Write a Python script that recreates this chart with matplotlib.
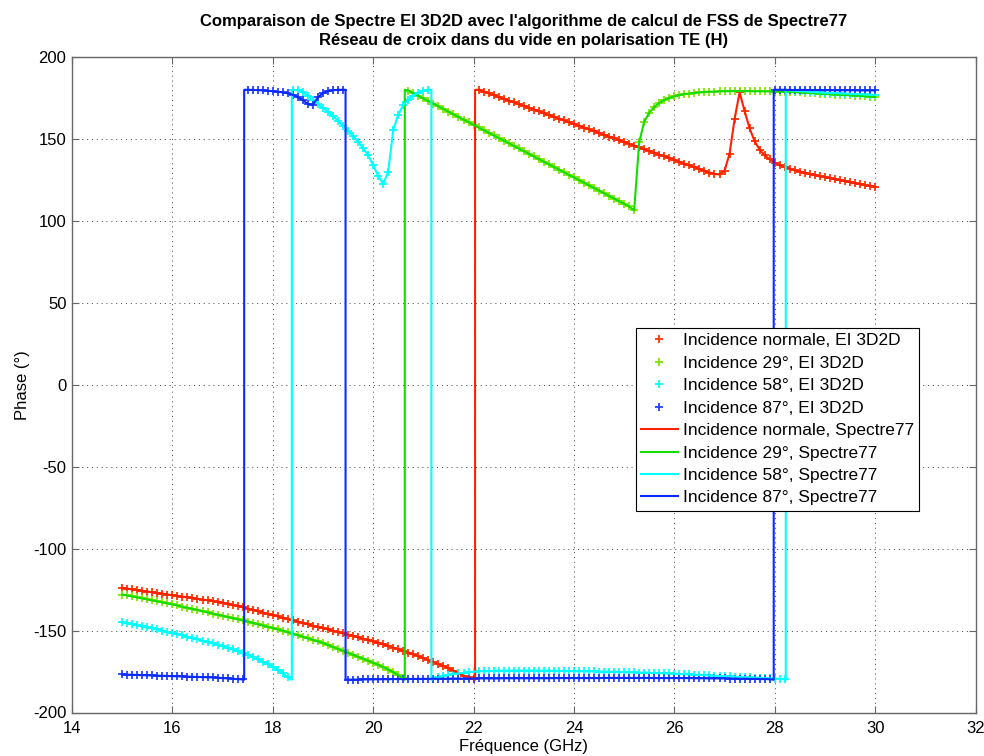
import numpy as np
import matplotlib
matplotlib.use("Agg")
import matplotlib.pyplot as plt

plt.rcParams['font.family'] = ['Liberation Sans', 'DejaVu Sans']
plt.rcParams['axes.unicode_minus'] = False

# ---------------- data ----------------
freq = np.round(np.linspace(15.0, 30.0, 151), 1)  # GHz, 0.1 GHz step

phase_normal = [
    -124.0, -124.4, -124.9, -125.3, -125.8, -126.2, -126.6, -127.1, -127.5, -128.0, -128.4,
    -128.8, -129.3, -129.7, -130.2, -130.6, -131.1, -131.5, -132.0, -132.4, -132.9,
    -133.6, -134.3, -135.0, -135.8, -136.6, -137.4, -138.2, -139.0, -139.8, -140.6,
    -141.4, -142.2, -143.0, -143.8, -144.6, -145.4, -146.2, -147.0, -147.8, -148.5,
    -149.3, -150.1, -150.9, -151.7, -152.5, -153.3, -154.1, -155.0, -155.8, -156.6,
    -157.5, -158.4, -159.4, -160.4, -161.5, -162.5, -163.5, -164.6, -165.7, -166.8,
    -168.0, -169.2, -170.5, -171.7, -173.0, -174.5, -176.0, -177.5, -178.6, -179.5,
    180.0, 178.9, 177.8, 176.7, 175.6, 174.5, 173.4, 172.3, 171.2, 170.1,
    169.0, 167.9, 166.8, 165.7, 164.6, 163.5, 162.4, 161.3, 160.2, 159.1,
    158.0, 156.9, 155.8, 154.7, 153.6, 152.5, 151.4, 150.3, 149.2, 148.1,
    147.0, 145.9, 144.8, 143.7, 142.6, 141.5, 140.4, 139.3, 138.2, 137.1,
    136.0, 134.9, 133.8, 132.7, 131.6, 130.5, 129.5, 128.6, 128.3, 130.5,
    141.0, 162.0, 178.5, 167.0, 156.5, 148.5, 143.5, 140.0, 137.5, 135.5,
    134.0, 132.8, 131.8, 130.9, 130.1, 129.3, 128.6, 127.9, 127.2, 126.6,
    126.0, 125.4, 124.8, 124.2, 123.6, 123.0, 122.4, 121.8, 121.2, 120.6,
]

phase_29 = [
    -128.0, -128.6, -129.2, -129.8, -130.4, -131.0, -131.6, -132.2, -132.8, -133.4, -134.0,
    -134.7, -135.4, -136.1, -136.8, -137.5, -138.2, -138.9, -139.6, -140.3, -141.0,
    -141.7, -142.4, -143.1, -143.8, -144.5, -145.3, -146.1, -146.9, -147.7, -148.5,
    -149.3, -150.1, -151.0, -151.9, -152.8, -153.8, -154.7, -155.7, -156.6, -157.6,
    -158.8, -160.0, -161.2, -162.4, -163.6, -164.8, -166.0, -167.2, -168.4, -169.6,
    -170.9, -172.3, -173.8, -175.4, -177.2, -179.2,
    179.5, 177.9, 176.3, 174.7,
    173.1, 171.5, 169.9, 168.3, 166.6, 165.0, 163.4, 161.8, 160.2, 158.6,
    157.0, 155.4, 153.8, 152.2, 150.6, 149.0, 147.4, 145.8, 144.2, 142.6,
    141.0, 139.3, 137.7, 136.1, 134.5, 132.9, 131.3, 129.7, 128.1, 126.5,
    124.9, 123.3, 121.7, 120.1, 118.5, 116.9, 115.2, 113.6, 112.0, 110.4,
    108.8, 106.5,
    148.0, 160.5, 166.0, 169.5, 172.0, 173.8, 175.0, 176.0,
    176.7, 177.3, 177.7, 178.1, 178.4, 178.6, 178.8, 178.9, 179.0, 179.1,
    179.1, 179.2, 179.2, 179.2, 179.2, 179.1, 179.1, 179.0, 179.0, 178.9,
    178.8, 178.7, 178.6, 178.5, 178.4, 178.2, 178.0, 177.8, 177.6, 177.4,
    177.3, 177.1, 176.9, 176.8, 176.6, 176.4, 176.2, 176.0, 175.8, 175.6,
]

phase_58 = [
    -145.0, -145.6, -146.2, -146.9, -147.5, -148.1, -148.7, -149.3, -150.0, -150.7, -151.4,
    -152.2, -153.0, -153.8, -154.6, -155.4, -156.2, -157.0, -157.8, -158.7, -159.6,
    -160.5, -161.5, -162.6, -163.8, -165.0, -166.3, -167.6, -169.0, -170.5, -172.0,
    -174.0, -176.0, -178.5,
    180.0, 179.6, 178.5, 176.5, 174.0, 171.5, 169.0,
    166.5, 164.0, 161.0, 158.0, 155.0, 152.0, 148.3, 144.3, 140.0, 134.0,
    127.5, 122.5, 130.0, 155.5, 164.8, 170.8, 174.0, 176.5, 178.3, 179.4, 180.0,
    -179.5, -178.6, -177.9, -177.2, -176.6, -176.1, -175.7, -175.4, -175.1,
    -174.9, -174.8, -174.7, -174.6, -174.5, -174.5, -174.4, -174.4, -174.4, -174.4,
    -174.4, -174.4, -174.5, -174.5, -174.5, -174.6, -174.6, -174.6, -174.7, -174.7,
    -174.8, -174.8, -174.9, -174.9, -175.0, -175.0, -175.1, -175.1, -175.2, -175.3,
    -175.4, -175.5, -175.6, -175.7, -175.8, -175.9, -176.0, -176.1, -176.2, -176.4,
    -176.5, -176.6, -176.8, -176.9, -177.1, -177.2, -177.4, -177.5, -177.7, -177.8,
    -178.0, -178.1, -178.3, -178.4, -178.6, -178.7, -178.9, -179.0, -179.2, -179.3,
    -179.5, -179.8,
    179.6, 179.4, 179.2, 179.0, 178.8, 178.6, 178.4, 178.2,
    178.1, 178.0, 177.8, 177.7, 177.6, 177.4, 177.3, 177.2, 177.0, 176.9,
]

phase_87 = [
    -176.8, -176.9, -177.0, -177.1, -177.2, -177.3, -177.4, -177.5, -177.6, -177.7, -177.8,
    -177.9, -178.0, -178.1, -178.2, -178.3, -178.4, -178.5, -178.6, -178.8, -179.0,
    -179.2, -179.4, -179.6, -179.8,
    180.0, 179.9, 179.8, 179.6, 179.4, 179.1, 178.8, 178.4, 177.8, 176.9,
    175.5, 173.8, 171.2, 171.0, 175.5, 177.9, 179.2, 179.7, 180.0, 180.0,
    -180.0, -179.9, -179.9, -179.8, -179.8, -179.8,
    -179.7, -179.7, -179.7, -179.6, -179.6, -179.6, -179.6, -179.5, -179.5, -179.5,
    -179.5, -179.4, -179.4, -179.4, -179.4, -179.3, -179.3, -179.3, -179.3, -179.3,
    -179.2, -179.2, -179.2, -179.2, -179.2, -179.1, -179.1, -179.1, -179.1, -179.1,
    -179.1, -179.1, -179.1, -179.1, -179.1, -179.0, -179.0, -179.0, -179.0, -179.0,
    -179.0, -179.0, -179.0, -179.0, -179.0, -178.9, -178.9, -178.9, -178.9, -178.9,
    -178.9, -178.9, -178.9, -178.9, -178.9, -179.0, -179.0, -179.0, -179.0, -179.0,
    -179.0, -179.0, -179.0, -179.1, -179.1, -179.1, -179.2, -179.2, -179.2, -179.2,
    -179.3, -179.3, -179.4, -179.4, -179.5, -179.5, -179.6, -179.6, -179.7,
    180.0, 180.0, 180.0, 179.9, 179.9, 179.9, 179.9, 179.8, 179.8, 179.8,
    179.8, 179.8, 179.7, 179.7, 179.7, 179.7, 179.7, 179.6, 179.6, 179.6, 179.6,
]

# frequencies (GHz) where the Spectre77 phase wraps between -180 and +180
wraps_normal = [22.03]
wraps_29 = [20.63]
wraps_58 = [18.38, 21.16, 28.22]
wraps_87 = [17.43, 19.45, 27.98]

labels_ei = ["Incidence normale, EI 3D2D", "Incidence 29°, EI 3D2D",
             "Incidence 58°, EI 3D2D", "Incidence 87°, EI 3D2D"]
labels_sp = ["Incidence normale, Spectre77", "Incidence 29°, Spectre77",
             "Incidence 58°, Spectre77", "Incidence 87°, Spectre77"]

marker_colors = ['#ff3300', '#80e600', '#00ffff', '#2244ff']
line_colors = ['#ff2200', '#11dd00', '#00ffff', '#0a2aff']


def with_wraps(f, p, wraps):
    f = list(f)
    p = list(p)
    xs, ys = [f[0]], [p[0]]
    for i in range(1, len(f)):
        for w in wraps:
            if f[i - 1] < w <= f[i]:
                xs += [w, w]
                ys += [180.0 if p[i - 1] > 0 else -180.0,
                       180.0 if p[i] > 0 else -180.0]
        xs.append(f[i])
        ys.append(p[i])
    return xs, ys


series = [phase_normal, phase_29, phase_58, phase_87]
wraps = [wraps_normal, wraps_29, wraps_58, wraps_87]
for s in series:
    assert len(s) == len(freq), len(s)

# ---------------- figure ----------------
fig = plt.figure(figsize=(9.84, 7.56), dpi=100)
ax = fig.add_axes([72 / 984, 1 - 712.5 / 756, 903.5 / 984, 655.5 / 756])

handles = []
for s, c, lab in zip(series, marker_colors, labels_ei):
    h, = ax.plot(freq, s, linestyle='none', marker='+', markersize=6,
                 markeredgewidth=1.3, color=c, label=lab)
    handles.append(h)
for s, w, c, lab in zip(series, wraps, line_colors, labels_sp):
    xs, ys = with_wraps(freq, s, w)
    h, = ax.plot(xs, ys, '-', lw=1.5, color=c, label=lab)
    handles.append(h)

ax.set_xlim(14, 32)
ax.set_ylim(-200, 200)
ax.set_xticks(np.arange(14, 33, 2))
ax.set_yticks(np.arange(-200, 201, 50))
ax.grid(True, color='#444444', linestyle=(0, (1, 4)), linewidth=0.7)
ax.tick_params(direction='in', length=5, width=0.8, color='#666666',
               top=True, right=True, labelsize=12, pad=4)
ax.tick_params(axis='x', pad=6)
for sp in ax.spines.values():
    sp.set_color('#666666')
    sp.set_linewidth(1.0)

ax.set_xlabel('Fréquence (GHz)', fontsize=12, labelpad=2)
ax.set_ylabel('Phase (°)', fontsize=12, labelpad=2)
ax.set_title("Comparaison de Spectre EI 3D2D avec l'algorithme de calcul de FSS de Spectre77\n"
             "Réseau de croix dans du vide en polarisation TE (H)",
             fontsize=12, fontweight='bold', pad=9, linespacing=1.3)

leg = ax.legend(handles=handles, loc='upper left',
                bbox_to_anchor=((636 - 72) / 903.5, (712.5 - 328) / 655.5),
                borderaxespad=0, fontsize=12.5, frameon=True, fancybox=False,
                framealpha=1, edgecolor='black', numpoints=1,
                handlelength=2.1, handletextpad=0.3, labelspacing=0.42,
                borderpad=0.3)
leg.get_frame().set_linewidth(0.8)

fig.savefig('out.png', dpi=100)
